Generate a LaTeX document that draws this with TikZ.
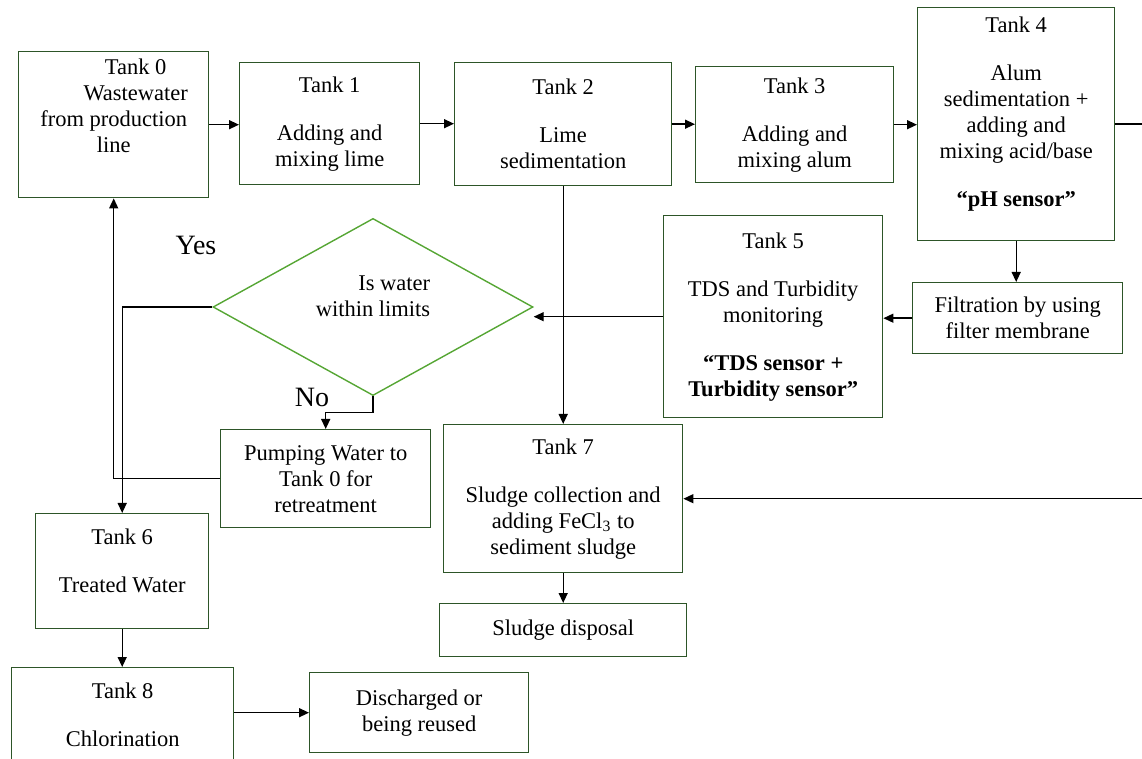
\documentclass[tikz,border=0pt]{standalone}
\usepackage{fontspec}
\setmainfont{Liberation Serif}
\usetikzlibrary{calc,shapes.geometric,arrows.meta}
\definecolor{vertfonce}{RGB}{45,85,40}
\definecolor{vertclair}{RGB}{86,166,52}
\tikzstyle{cuve} = [rectangle, draw=vertfonce, line width=0.7pt, anchor=north west, align=center, inner sep=2pt, font=\fontsize{11.25}{13}\selectfont]
\tikzstyle{losange} = [diamond, draw=vertclair, line width=0.7pt, minimum width=160pt, minimum height=84pt, inner sep=0pt, align=right, font=\fontsize{11.25}{13}\selectfont]
\tikzstyle{fleche} = [draw=black, line width=0.7pt, -{Triangle[length=5pt,width=4.5pt]}]
\tikzstyle{trait} = [draw=black, line width=0.7pt]
\tikzstyle{etiquette} = [inner sep=0pt, font=\fontsize{14}{16}\selectfont]

\begin{document}
\begin{tikzpicture}[x=0.5pt, y=-0.5pt]

        \useasboundingbox (0,0) rectangle (1142,759);
        \clip (0,0) rectangle (1142,759);
        \coordinate (bord) at (1142,0);

        \node (T0) [cuve, minimum width=95pt, minimum height=73pt] at (18,51) {\hspace*{22pt}Tank 0\\ \hspace*{22pt}Wastewater\\ from production\\ line\\[6.5pt]\mbox{}};
        \node (T1) [cuve, minimum width=90pt, minimum height=61pt] at (239,62) {Tank 1\\[11pt] Adding and\\ mixing lime};
        \node (T2) [cuve, minimum width=108.5pt, minimum height=61.5pt] at (454,62) {Tank 2\\[11pt] Lime\\ sedimentation};
        \node (T3) [cuve, minimum width=99pt, minimum height=58pt] at (695,66) {Tank 3\\[11pt] Adding and\\ mixing alum};
        \node (T4) [cuve, minimum width=98.5pt, minimum height=116.5pt] at (917,7) {Tank 4\\[11pt] Alum\\ sedimentation +\\ adding and\\ mixing acid/base\\[11pt] \textbf{“pH sensor”}\\[-0.6pt]\mbox{}};

        \node (F) [cuve, minimum width=105pt, minimum height=35.5pt] at (912,282) {Filtration by using\\ filter membrane};
        \node (T5) [cuve, minimum width=109.5pt, minimum height=101pt] at (663,215) {Tank 5\\[11pt] TDS and Turbidity\\ monitoring\\[11pt] \textbf{“TDS sensor +}\\ \textbf{Turbidity sensor”}};

        \node (D) [losange] at (373,307) {Is water\\ within limits\\[-2pt]\mbox{}};
        \node (oui) [etiquette] at (196,245) {Yes};
        \node (non) [etiquette] at (312,397) {No};

        \node (P) [cuve, minimum width=105pt, minimum height=49pt] at (220,429) {Pumping Water to\\ Tank 0 for\\ retreatment};
        \node (T7) [cuve, minimum width=119.5pt, minimum height=74pt] at (443,424) {Tank 7\\[11pt] Sludge collection and\\ adding FeCl\textsubscript{3} to\\ sediment sludge};
        \node (S) [cuve, minimum width=123.5pt, minimum height=26.5pt] at (439,603) {Sludge disposal};

        \node (T6) [cuve, minimum width=86.5pt, minimum height=57.5pt] at (35,513) {Tank 6\\[11pt] Treated Water\\[-2pt]\mbox{}};
        \node (T8) [cuve, minimum width=111pt, minimum height=47.5pt] at (11,667) {Tank 8\\[11pt] Chlorination};
        \node (R) [cuve, minimum width=109.5pt, minimum height=40pt] at (309,672) {Discharged or\\ being reused};


        \draw[fleche] (T0.east) -- (T0.east -| T1.west);
        \draw[fleche] (T1.east) -- (T1.east -| T2.west);
        \draw[fleche] (T2.east) -- (T2.east -| T3.west);
        \draw[fleche] (T3.east) -- (T3.east -| T4.west);
        \draw[trait] (T4.east) -- (T4.east -| bord);

        \draw[fleche] (T4.south) -- (T4.south |- F.north);
        \draw[fleche] (F.west) -- (F.west -| T5.east);
        \draw[fleche] (T5.west) -- (T5.west -| D.east);

        \draw[fleche] (T2.south) -- (T2.south |- T7.north);
        \draw[fleche] (T7.east -| bord) -- (T7.east);
        \draw[fleche] (T7.south) -- (T7.south |- S.north);

        \draw[fleche] (D.south) -- ($(D.south)!0.5!(D.south |- P.north)$) -| (P.north);
        \draw[fleche] (D.west) -| (T6.north);
        \draw[fleche] (P.west) -| (T0.south);

        \draw[fleche] (T6.south) -- (T6.south |- T8.north);
        \draw[fleche] (T8.east |- R.west) -- (R.west);

\end{tikzpicture}
\end{document}
